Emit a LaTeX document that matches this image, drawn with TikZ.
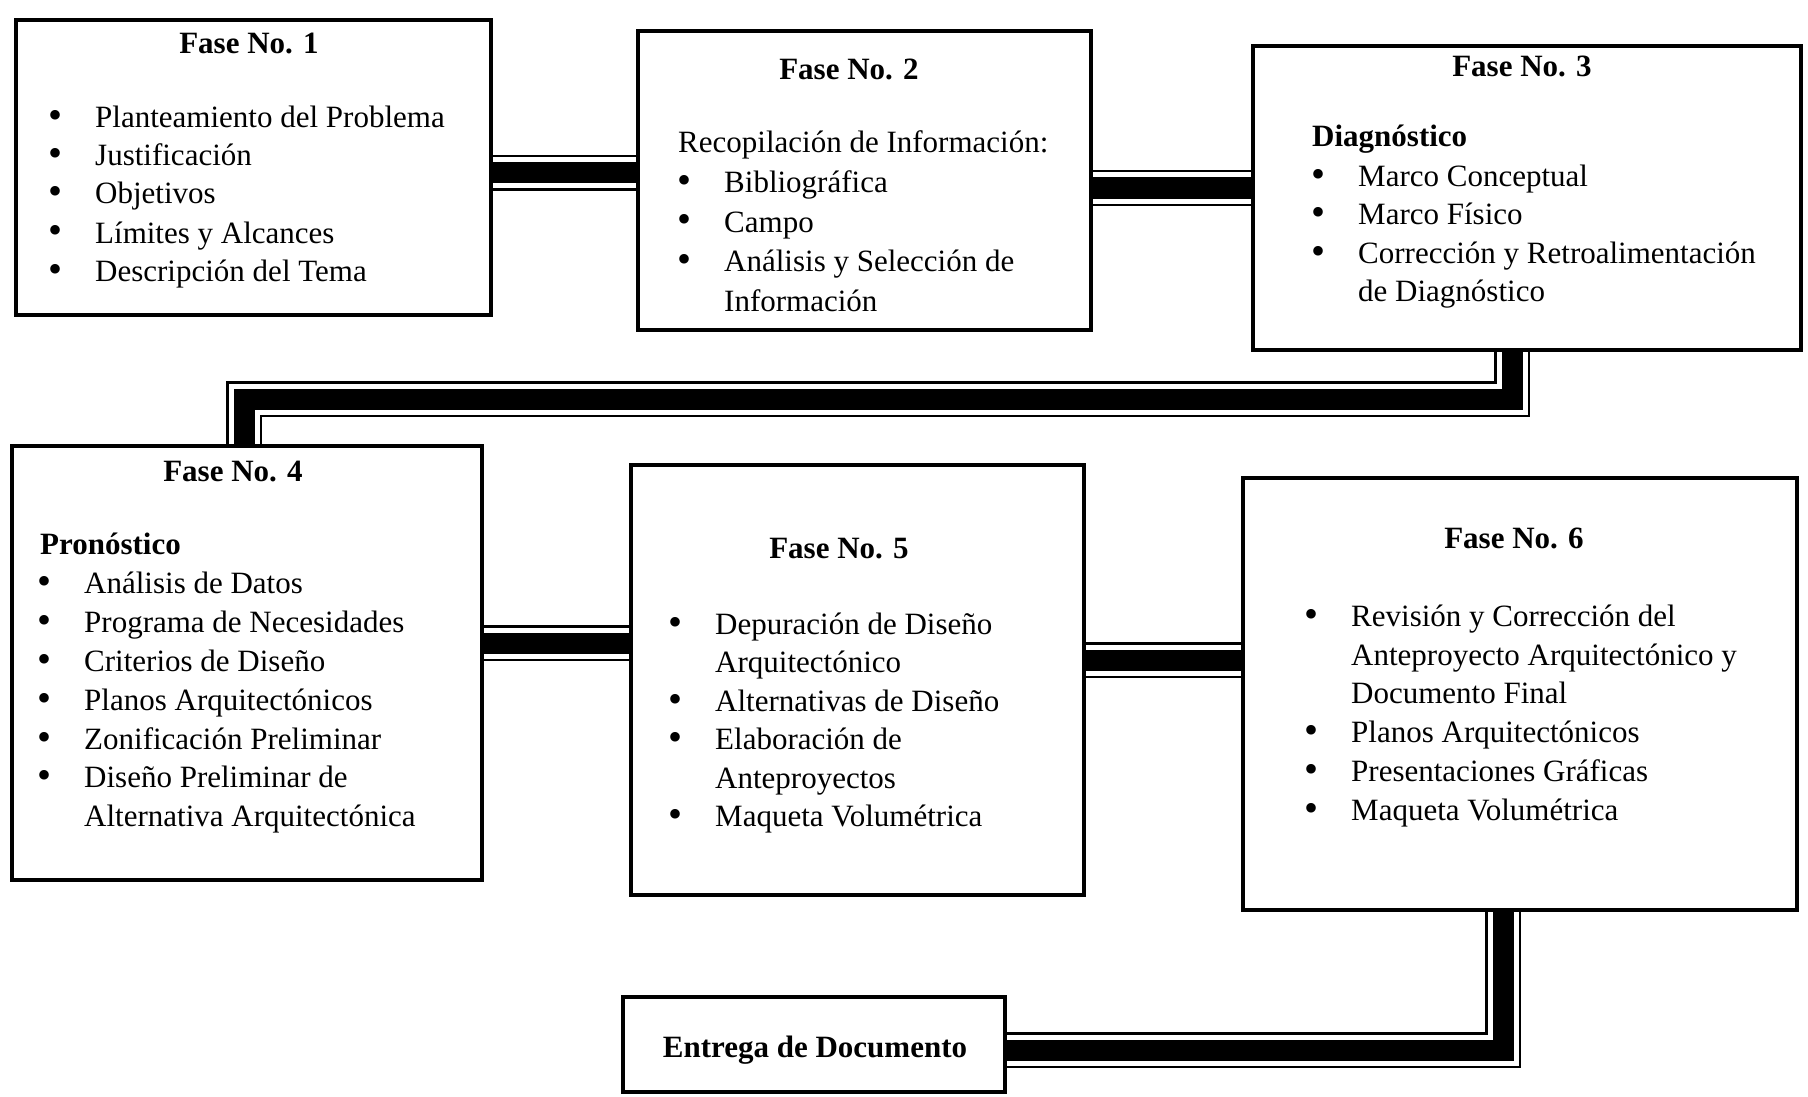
\documentclass[tikz,border=0pt]{standalone}
\usepackage{fontspec}
\setmainfont{Liberation Serif}
\usetikzlibrary{backgrounds}
\newcommand\bul{\llap{\raisebox{-1pt}{\fontsize{40}{38}\selectfont\textbullet}\hspace{33pt}}}
\tikzset{
  box/.style={draw=black, line width=4.5pt, fill=white, rectangle, inner sep=0pt},
  ttl/.style={inner sep=0pt, anchor=center, font=\bfseries\fontsize{31}{38}\selectfont},
  itm/.style={inner sep=0pt, anchor=base west, font=\fontsize{31}{38}\selectfont},
  itb/.style={inner sep=0pt, anchor=base west, font=\bfseries\fontsize{31}{38}\selectfont},
  pipe/.style={draw=black, line width=36pt,
    postaction={draw=white, line width=31pt},
    postaction={draw=black, line width=21pt}}
}
\begin{document}
\begin{tikzpicture}[x=1pt,y=-1pt]
\useasboundingbox (0,0) rectangle (1808,1097);

% boxes
\node[box, minimum width=475, minimum height=295] (b1) at (253.5,167.5) {};
\node[box, minimum width=453, minimum height=299] (b2) at (864.5,180.5) {};
\node[box, minimum width=548, minimum height=304] (b3) at (1527,198) {};
\node[box, minimum width=470, minimum height=434] (b4) at (247,663) {};
\node[box, minimum width=453, minimum height=430] (b5) at (857.5,680) {};
\node[box, minimum width=554, minimum height=432] (b6) at (1520,694) {};
\node[box, minimum width=382, minimum height=95] (b7) at (814,1044.5) {};

% connector coordinates
\coordinate (k12) at (560,173);
\coordinate (k23) at (1170,188);
\coordinate (k34) at (1512,399);
\coordinate (k34b) at (244,399);
\coordinate (k45) at (555,643);
\coordinate (k56) at (1160,660);
\coordinate (k67) at (1503,1050);

\begin{scope}[on background layer]
\fill[white] (0,0) rectangle (1808,1097);
\draw[pipe] (b1.east |- k12) -- (b2.west |- k12);
\draw[pipe] (b2.east |- k23) -- (b3.west |- k23);
\draw[pipe] (b3.south -| k34) -- (k34) -- (k34b) -- (b4.north -| k34b);
\draw[pipe] (b4.east |- k45) -- (b5.west |- k45);
\draw[pipe] (b5.east |- k56) -- (b6.west |- k56);
\draw[pipe] (b6.south -| k67) -- (k67) -- (b7.east |- k67);
\end{scope}

% Fase 1
\node[ttl] (t1) at (249,43) {Fase No. 1};
\node[itm] (t1a) at (95,128) {\bul Planteamiento del Problema};
\node[itm] (t1b) at (95,166) {\bul Justificación};
\node[itm] (t1c) at (95,204) {\bul Objetivos};
\node[itm] (t1d) at (95,243) {\bul Límites y Alcances};
\node[itm] (t1e) at (95,281) {\bul Descripción del Tema};

% Fase 2
\node[ttl] (t2) at (849,69) {Fase No. 2};
\node[itm] (t2h) at (678,153) {Recopilación de Información:};
\node[itm] (t2a) at (724,192.5) {\bul Bibliográfica};
\node[itm] (t2b) at (724,232) {\bul Campo};
\node[itm] (t2c) at (724,271.5) {\bul Análisis y Selección de};
\node[itm] (t2d) at (724,311) {Información};

% Fase 3
\node[ttl] (t3) at (1522,66) {Fase No. 3};
\node[itb] (t3h) at (1312,147) {Diagnóstico};
\node[itm] (t3a) at (1358,186) {\bul Marco Conceptual};
\node[itm] (t3b) at (1358,224) {\bul Marco Físico};
\node[itm] (t3c) at (1358,263) {\bul Corrección y Retroalimentación};
\node[itm] (t3d) at (1358,301) {de Diagnóstico};

% Fase 4
\node[ttl] (t4) at (233,472) {Fase No. 4};
\node[itb] (t4h) at (40,554) {Pronóstico};
\node[itm] (t4a) at (84,593) {\bul Análisis de Datos};
\node[itm] (t4b) at (84,632) {\bul Programa de Necesidades};
\node[itm] (t4c) at (84,671) {\bul Criterios de Diseño};
\node[itm] (t4d) at (84,710) {\bul Planos Arquitectónicos};
\node[itm] (t4e) at (84,749) {\bul Zonificación Preliminar};
\node[itm] (t4f) at (84,787) {\bul Diseño Preliminar de};
\node[itm] (t4g) at (84,826) {Alternativa Arquitectónica};

% Fase 5
\node[ttl] (t5) at (839,549) {Fase No. 5};
\node[itm] (t5a) at (715,634) {\bul Depuración de Diseño};
\node[itm] (t5b) at (715,672.5) {Arquitectónico};
\node[itm] (t5c) at (715,711) {\bul Alternativas de Diseño};
\node[itm] (t5d) at (715,749.5) {\bul Elaboración de};
\node[itm] (t5e) at (715,788) {Anteproyectos};
\node[itm] (t5f) at (715,826.5) {\bul Maqueta Volumétrica};

% Fase 6
\node[ttl] (t6) at (1514,538) {Fase No. 6};
\node[itm] (t6a) at (1351,626) {\bul Revisión y Corrección del};
\node[itm] (t6b) at (1351,665) {Anteproyecto Arquitectónico y};
\node[itm] (t6c) at (1351,703) {Documento Final};
\node[itm] (t6d) at (1351,742) {\bul Planos Arquitectónicos};
\node[itm] (t6e) at (1351,781) {\bul Presentaciones Gráficas};
\node[itm] (t6f) at (1351,820) {\bul Maqueta Volumétrica};

% Entrega
\node[ttl] (t7) at (815,1050) {Entrega de Documento};
\end{tikzpicture}
\end{document}
